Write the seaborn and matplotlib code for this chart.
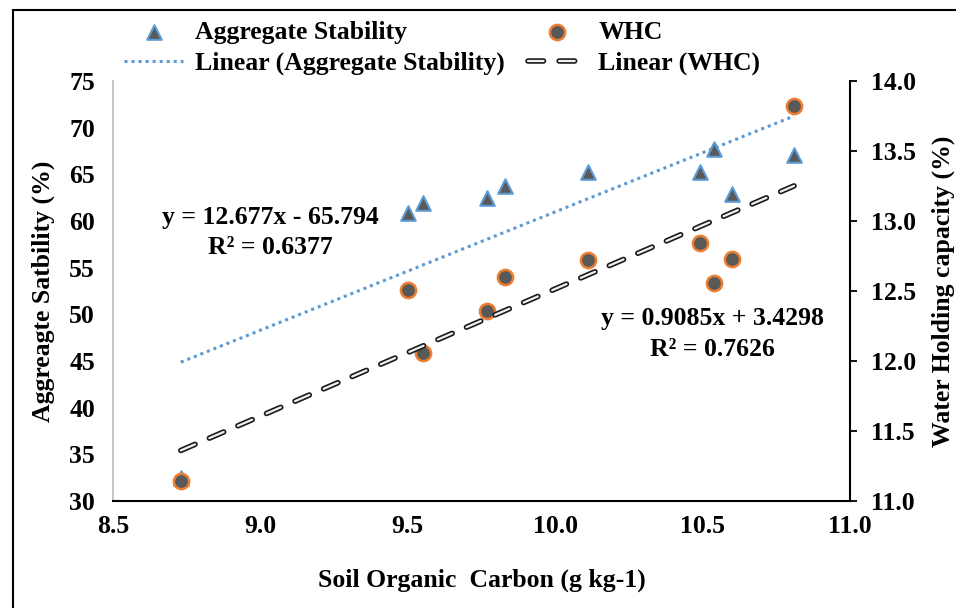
import seaborn as sns
import matplotlib.pyplot as plt
import matplotlib.patheffects as pe
from matplotlib.patches import Rectangle
from matplotlib.ticker import FormatStrFormatter
import pandas as pd

# data
soc = [8.73, 9.50, 9.55, 9.77, 9.83, 10.11, 10.49, 10.54, 10.60, 10.81]
agg_stability = [32.5, 60.9, 61.9, 62.5, 63.7, 65.2, 65.2, 67.7, 62.9, 67.1]
whc = [11.14, 12.51, 12.06, 12.36, 12.60, 12.72, 12.84, 12.56, 12.73, 13.82]

# trend line coefficients (slope, intercept, r2) as printed on the chart
agg_fit = [12.677, -65.794, 0.6377]
whc_fit = [0.9085, 3.4298, 0.7626]

x_ticks = [8.5, 9.0, 9.5, 10.0, 10.5, 11.0]
left_ticks = [30, 35, 40, 45, 50, 55, 60, 65, 70, 75]
right_ticks = [11.0, 11.5, 12.0, 12.5, 13.0, 13.5, 14.0]

df = pd.DataFrame({'soc': soc, 'agg': agg_stability, 'whc': whc})
fit_x = [min(soc), max(soc)]
fit_df = pd.DataFrame({
    'x': fit_x,
    'agg': [agg_fit[0] * v + agg_fit[1] for v in fit_x],
    'whc': [whc_fit[0] * v + whc_fit[1] for v in fit_x],
})

sns.set_style('white')
plt.rcParams['font.family'] = ['Liberation Serif', 'DejaVu Serif']
plt.rcParams['font.weight'] = 'bold'
plt.rcParams['axes.labelweight'] = 'bold'
for k in ('text.color', 'axes.labelcolor', 'xtick.color', 'ytick.color'):
    plt.rcParams[k] = 'black'

fs = 18.5

fig = plt.figure(figsize=(9.56, 6.08), dpi=100)
ax = fig.add_axes([113 / 956, 107 / 608, 737 / 956, 420 / 608])
ax2 = ax.twinx()

blue = '#5B9BD5'
orange = '#ED7D31'
gray = '#595959'

# Aggregate stability on left axis
sns.scatterplot(data=df, x='soc', y='agg', ax=ax, marker='^', s=110,
                color=gray, edgecolor=blue, linewidth=1.5,
                label='Aggregate Stability', legend=False, zorder=3)
sns.lineplot(data=fit_df, x='x', y='agg', ax=ax, color=blue, lw=2.2,
             linestyle=(0, (1, 1.3)), label='Linear (Aggregate Stability)',
             legend=False, zorder=4)

# WHC on right axis
sns.scatterplot(data=df, x='soc', y='whc', ax=ax2, marker='o', s=120,
                color=gray, edgecolor=orange, linewidth=1.8,
                label='WHC', legend=False, zorder=3)
sns.lineplot(data=fit_df, x='x', y='whc', ax=ax2, color='#f0f0f0', lw=1.6,
             linestyle=(0, (7, 7)), label='Linear (WHC)', legend=False,
             zorder=4, dash_capstyle='round',
             path_effects=[pe.Stroke(linewidth=4.0, foreground='#1a1a1a'), pe.Normal()])

ax.set_xlim(8.5, 11.0)
ax.set_ylim(30, 75)
ax2.set_ylim(11.0, 14.0)
ax.set_xticks(x_ticks)
ax.set_yticks(left_ticks)
ax2.set_yticks(right_ticks)
ax.xaxis.set_major_formatter(FormatStrFormatter('%.1f'))
ax2.yaxis.set_major_formatter(FormatStrFormatter('%.1f'))

ax.tick_params(axis='x', length=0, pad=10, labelsize=fs)
ax.tick_params(axis='y', length=0, pad=13, labelsize=fs)
ax2.tick_params(axis='y', length=5, width=1.3, direction='out', color='black',
                pad=10, labelsize=fs)

for a in (ax, ax2):
    for side in ('top', 'left', 'right', 'bottom'):
        a.spines[side].set_visible(False)
ax.spines['left'].set_visible(True)
ax.spines['left'].set_color('#bfbfbf')
ax.spines['left'].set_linewidth(1.3)
ax.spines['bottom'].set_visible(True)
ax.spines['bottom'].set_color('black')
ax.spines['bottom'].set_linewidth(1.5)
ax2.spines['right'].set_visible(True)
ax2.spines['right'].set_color('black')
ax2.spines['right'].set_linewidth(1.5)

ax.set_xlabel('Soil Organic  Carbon (g kg-1)', fontsize=fs, labelpad=22)
ax.set_ylabel('Aggreagte Satbility (%)', fontsize=fs, labelpad=10)
ax2.set_ylabel('Water Holding capacity (%)', fontsize=fs, labelpad=11)

# trend line equations
ax.text(9.033, 58.8, 'y = %.3fx - %.3f\nR² = %.4f' % (agg_fit[0], -agg_fit[1], agg_fit[2]),
        ha='center', va='center', multialignment='center', fontsize=fs,
        linespacing=1.4, fontweight='bold')
ax.text(10.535, 47.9, 'y = %.4fx + %.4f\nR² = %.4f' % (whc_fit[0], whc_fit[1], whc_fit[2]),
        ha='center', va='center', multialignment='center', fontsize=fs,
        linespacing=1.4, fontweight='bold')

h1, l1 = ax.get_legend_handles_labels()
h2, l2 = ax2.get_legend_handles_labels()
handles = [h1[0], h1[1], h2[0], h2[1]]
labels = [l1[0], l1[1], l2[0], l2[1]]
fig.legend(handles, labels, ncol=2, loc='upper left',
           bbox_to_anchor=(124 / 956, 587 / 608), frameon=False,
           fontsize=fs, handlelength=2.3, handletextpad=0.45,
           columnspacing=0.9, labelspacing=0.3, borderpad=0,
           borderaxespad=0)

# outer frame of the picture
fig.patches.append(Rectangle((13 / 956, -0.1), 1.1, 598 / 608 + 0.1,
                             transform=fig.transFigure, fill=False,
                             edgecolor='black', lw=1.5))

fig.savefig('out.png', dpi=100)
